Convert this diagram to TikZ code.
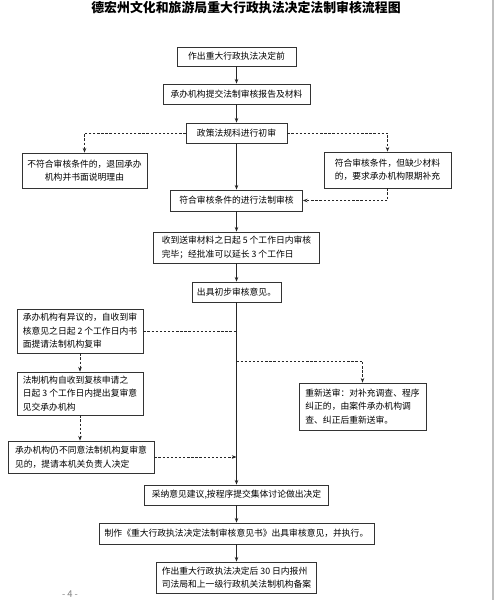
\documentclass[tikz,border=0pt]{standalone}
\usepackage{fontspec}
\setmainfont{Noto Sans CJK SC}
\usetikzlibrary{arrows.meta}

\tikzset{
  box/.style={draw=black!80, line width=0.6pt, inner sep=2pt, align=center,
    font=\fontsize{7.5pt}{11.5pt}\selectfont},
  solidarrow/.style={draw=black!85, line width=0.6pt, -{Stealth[length=4pt,width=3pt]}},
  dashline/.style={draw=black!85, line width=0.6pt, dash pattern=on 2pt off 1.5pt},
  dasharrow/.style={dashline, -{Stealth[length=4pt,width=3pt]}},
}

\begin{document}
\begin{tikzpicture}[x=0.03cm, y=-0.03cm]
        \useasboundingbox (0,0) rectangle (496,600);
        % page edge
        \draw[black!25, line width=1.2pt] (493,0) -- (493,600);

        % Title
        \node[font=\fontsize{11pt}{11pt}\selectfont\bfseries] (title) at (246,8)
            {德宏州文化和旅游局重大行政执法决定法制审核流程图};

        % Main column
        \node[box, minimum width=3.57cm, minimum height=0.57cm] (start) at (236.5,56.5) {作出重大行政执法决定前};
        \node[box, minimum width=4.41cm, minimum height=0.6cm] (submit) at (236.5,94) {承办机构提交法制审核报告及材料};
        \node[box, minimum width=3.03cm, minimum height=0.6cm] (prelim) at (236.5,133) {政策法规科进行初审};
        \node[box, minimum width=3.96cm, minimum height=0.63cm] (review) at (236.5,200.5) {符合审核条件的进行法制审核};
        \node[box, minimum width=4.98cm, minimum height=0.93cm, align=left] (limit) at (236.5,247.5)
            {收到送审材料之日起 5 个工作日内审核\\完毕；经批准可以延长 3 个工作日};
        \node[box, minimum width=2.67cm, minimum height=0.6cm] (opinion) at (236.5,292) {出具初步审核意见。};
        \node[box, minimum width=5.52cm, minimum height=0.6cm] (decide) at (236.5,495) {采纳意见建议,按程序提交集体讨论做出决定};
        \node[box, minimum width=8.25cm, minimum height=0.63cm] (document) at (236.5,533.5)
            {制作《重大行政执法决定法制审核意见书》出具审核意见，并执行。};
        \node[box, minimum width=4.8cm, minimum height=0.93cm, align=left] (filing) at (236.5,577.5)
            {作出重大行政执法决定后 30 日内报州\\司法局和上一级行政机关法制机构备案};

        % Side boxes
        \node[box, minimum width=3.75cm, minimum height=1.05cm] (reject) at (84.5,170.5)
            {不符合审核条件的，退回承办\\机构并书面说明理由};
        \node[box, minimum width=3.81cm, minimum height=1.08cm] (supply) at (387.5,170)
            {符合审核条件，但缺少材料\\的，要求承办机构限期补充};
        \node[box, minimum width=3.78cm, minimum height=1.32cm, align=left] (object) at (80,331)
            {承办机构有异议的，自收到审\\核意见之日起 2 个工作日内书\\面提请法制机构复审};
        \node[box, minimum width=3.78cm, minimum height=1.29cm, align=left] (recheck) at (80,393.5)
            {法制机构自收到复核申请之\\日起 3 个工作日内提出复审意\\见交承办机构};
        \node[box, minimum width=4.38cm, minimum height=0.96cm, align=left] (leader) at (81,457)
            {承办机构仍不同意法制机构复审意\\见的，提请本机关负责人决定};
        \node[box, minimum width=3.81cm, minimum height=1.41cm, align=left] (resend) at (362.5,406.5)
            {重新送审：对补充调查、程序\\纠正的，由案件承办机构调\\查、纠正后重新送审。};

        % Solid arrows down the column
        \foreach \a/\b in {start/submit, submit/prelim, prelim/review, review/limit,
                           limit/opinion, opinion/decide, decide/document, document/filing} {
            \draw[solidarrow] (\a.south) -- (\a.south |- \b.north);
        }

        % Dashed branches
        \draw[dasharrow] (prelim.west) -| (reject.north);
        \draw[dasharrow] (prelim.east) -| (supply.north);
        \draw[dasharrow] (supply.south) |- (review.east);
        \draw[dashline] (object.east) -- (object.east -| opinion.south);
        \draw[dasharrow] (object.south) -- (recheck.north);
        \draw[dasharrow] (recheck.south) -- (leader.north -| recheck.south);
        \draw[dasharrow] (leader.east) -- (leader.east -| opinion.south);
        \coordinate (split) at (236.5,361);
        \draw[dasharrow] (split) -| (resend.north);

        % Page number
        \node[text=black!50, font=\fontsize{8pt}{8pt}\selectfont] (page) at (70,594) {- 4 -};
\end{tikzpicture}
\end{document}
